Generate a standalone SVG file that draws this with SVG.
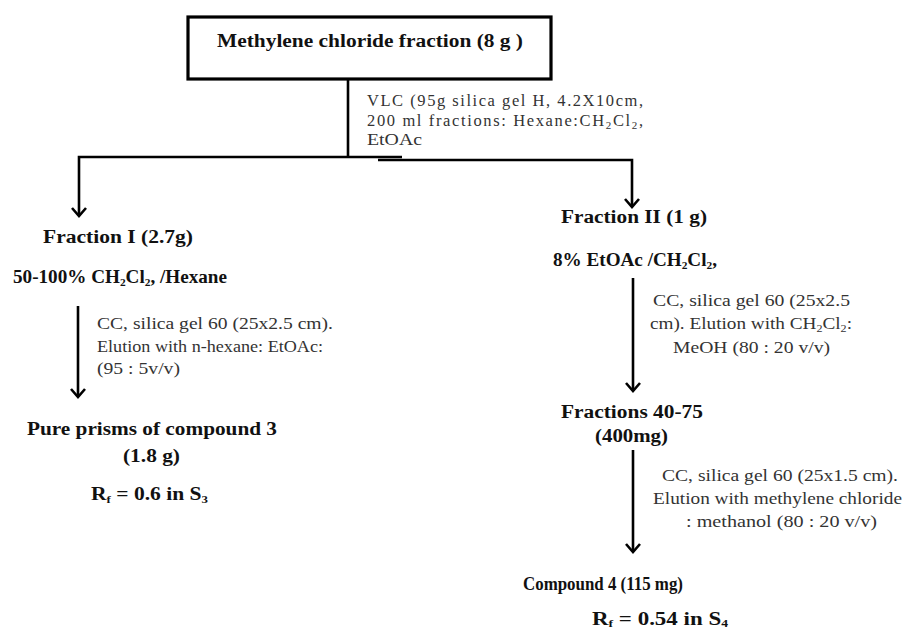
<svg xmlns="http://www.w3.org/2000/svg" width="909" height="631" viewBox="0 0 909 631">
<defs>
<style>
.b{font-family:"Liberation Serif","Times New Roman",serif;font-weight:bold;font-size:18.5px;fill:#111}
.r{font-family:"Liberation Serif","Times New Roman",serif;font-size:17.5px;fill:#333}
.v{font-size:16.5px}
.sub{font-size:11px}
.ln{stroke:#000;stroke-width:2.6;fill:none}
</style>
<marker id="ah" markerUnits="userSpaceOnUse" markerWidth="20" markerHeight="20" refX="0" refY="0" viewBox="-10 -10 20 20" orient="auto">
<path d="M-8,-7 L0,0 L-8,7" stroke="#000" stroke-width="2.6" fill="none"/>
</marker>
</defs>
<rect width="909" height="631" fill="#fff"/>

<g id="connectors">
<line class="ln" x1="348" y1="79" x2="348" y2="157"/>
<polyline class="ln" points="402,157 79,157 79,216" marker-end="url(#ah)"/>
<polyline class="ln" points="378,160 632,160 632,207" marker-end="url(#ah)"/>
<line class="ln" x1="78" y1="306" x2="78" y2="397" marker-end="url(#ah)"/>
<line class="ln" x1="633" y1="278" x2="633" y2="391" marker-end="url(#ah)"/>
<line class="ln" x1="633" y1="450" x2="633" y2="552" marker-end="url(#ah)"/>
</g>

<g id="node-top">
<rect x="188" y="17" width="363" height="62" fill="#fff" stroke="#000" stroke-width="3.2"/>
<text class="b" x="217" y="47" font-size="18" textLength="306" lengthAdjust="spacingAndGlyphs">Methylene chloride fraction (8 g )</text>
</g>

<g id="label-vlc">
<text class="r v" x="367" y="106" textLength="276" lengthAdjust="spacing">VLC (95g silica gel H, 4.2X10cm,</text>
<text class="r v" x="367" y="126" textLength="276" lengthAdjust="spacing">200 ml fractions: Hexane:CH<tspan class="sub" dy="3">2</tspan><tspan dy="-3">Cl</tspan><tspan class="sub" dy="3">2</tspan><tspan dy="-3">,</tspan></text>
<text class="r v" x="367" y="145" textLength="55" lengthAdjust="spacingAndGlyphs">EtOAc</text>
</g>

<g id="node-fraction1">
<text class="b" x="43" y="243" textLength="150" lengthAdjust="spacingAndGlyphs">Fraction I (2.7g)</text>
<text class="b" x="13" y="283" font-size="17" textLength="214" lengthAdjust="spacingAndGlyphs">50-100% CH<tspan class="sub" dy="3">2</tspan><tspan dy="-3">Cl</tspan><tspan class="sub" dy="3">2</tspan><tspan dy="-3">, /Hexane</tspan></text>
</g>

<g id="label-cc1">
<text class="r" x="97" y="329" textLength="236" lengthAdjust="spacingAndGlyphs">CC, silica gel 60 (25x2.5 cm).</text>
<text class="r" x="97" y="352" textLength="226" lengthAdjust="spacingAndGlyphs">Elution with n-hexane: EtOAc:</text>
<text class="r" x="97" y="374" textLength="83" lengthAdjust="spacingAndGlyphs">(95 : 5v/v)</text>
</g>

<g id="node-compound3">
<text class="b" x="27" y="435" textLength="250" lengthAdjust="spacingAndGlyphs">Pure prisms of compound 3</text>
<text class="b" x="123" y="462" textLength="57" lengthAdjust="spacingAndGlyphs">(1.8 g)</text>
<text class="b" x="91" y="500" textLength="117" lengthAdjust="spacingAndGlyphs">R<tspan class="sub" dy="3">f</tspan><tspan dy="-3"> = 0.6 in S</tspan><tspan class="sub" dy="3">3</tspan></text>
</g>

<g id="node-fraction2">
<text class="b" x="561" y="223" textLength="146" lengthAdjust="spacingAndGlyphs">Fraction II (1 g)</text>
<text class="b" x="553" y="266" font-size="17" textLength="164" lengthAdjust="spacingAndGlyphs">8% EtOAc /CH<tspan class="sub" dy="3">2</tspan><tspan dy="-3">Cl</tspan><tspan class="sub" dy="3">2</tspan><tspan dy="-3">,</tspan></text>
</g>

<g id="label-cc2">
<text class="r" x="653" y="306" textLength="197" lengthAdjust="spacingAndGlyphs">CC, silica gel 60 (25x2.5</text>
<text class="r" x="650" y="329" textLength="202" lengthAdjust="spacingAndGlyphs">cm). Elution with CH<tspan class="sub" dy="3">2</tspan><tspan dy="-3">Cl</tspan><tspan class="sub" dy="3">2</tspan><tspan dy="-3">:</tspan></text>
<text class="r" x="673" y="353" textLength="157" lengthAdjust="spacingAndGlyphs">MeOH (80 : 20 v/v)</text>
</g>

<g id="node-fractions40-75">
<text class="b" x="561" y="418" textLength="142" lengthAdjust="spacingAndGlyphs">Fractions 40-75</text>
<text class="b" x="595" y="442" textLength="73" lengthAdjust="spacingAndGlyphs">(400mg)</text>
</g>

<g id="label-cc3">
<text class="r" x="662" y="481" textLength="236" lengthAdjust="spacingAndGlyphs">CC, silica gel 60 (25x1.5 cm).</text>
<text class="r" x="653" y="504" textLength="249" lengthAdjust="spacingAndGlyphs">Elution with methylene chloride</text>
<text class="r" x="686" y="527" textLength="191" lengthAdjust="spacingAndGlyphs">: methanol (80 : 20 v/v)</text>
</g>

<g id="node-compound4">
<text class="b" x="523" y="590" font-size="17.5" textLength="160" lengthAdjust="spacingAndGlyphs">Compound 4 (115 mg)</text>
<text class="b" x="592" y="625" textLength="136" lengthAdjust="spacingAndGlyphs">R<tspan class="sub" dy="2">f</tspan><tspan dy="-2"> = 0.54 in S</tspan><tspan class="sub" dy="2">4</tspan></text>
</g>
</svg>
